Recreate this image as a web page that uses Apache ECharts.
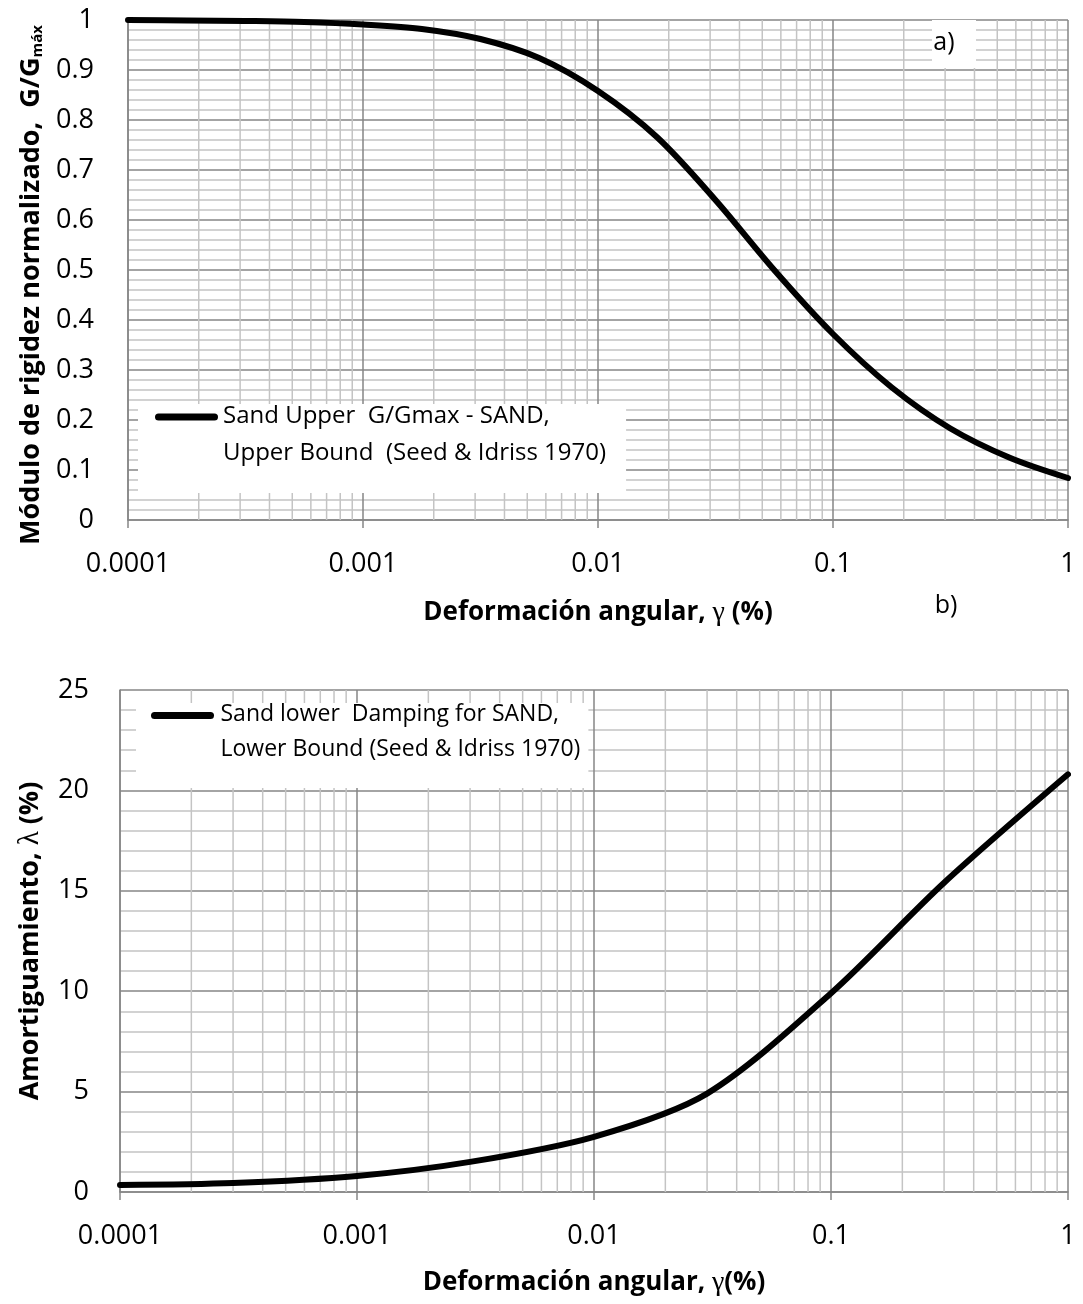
<!DOCTYPE html>
<html>
<head>
<meta charset="utf-8">
<script src="https://cdn.jsdelivr.net/npm/echarts@6/dist/echarts.min.js"></script>
<style>
  html, body { margin: 0; padding: 0; background: #ffffff; }
  #chart { width: 1083px; height: 1304px; }
</style>
</head>
<body>
<div id="chart"></div>
<script>
// Shear strain axis (log scale, %)
const xTicks = [0.0001, 0.001, 0.01, 0.1, 1];
const xTickLabels = ['0.0001', '0.001', '0.01', '0.1', '1'];
const minorSteps = [2, 3, 4, 5, 6, 7, 8, 9];

// a) Normalized shear modulus G/Gmax (read at quarter-decade strains)
const strainG = [0.0001, 0.000178, 0.000316, 0.000562, 0.001, 0.00178, 0.00316, 0.00562,
                 0.01, 0.0178, 0.0316, 0.0562, 0.1, 0.178, 0.316, 0.562, 1];
const gRatio  = [1.0, 0.999, 0.998, 0.996, 0.991, 0.982, 0.962, 0.924,
                 0.858, 0.766, 0.640, 0.500, 0.372, 0.265, 0.183, 0.125, 0.084];
const gTickLabels = ['0', '0.1', '0.2', '0.3', '0.4', '0.5', '0.6', '0.7', '0.8', '0.9', '1'];
const legendG = ['Sand Upper  G/Gmax - SAND,', 'Upper Bound  (Seed & Idriss 1970)'];

// b) Damping ratio
const strainD = [0.0001, 0.0003, 0.001, 0.003, 0.01, 0.03, 0.1, 0.3, 1];
const damping = [0.35, 0.45, 0.8, 1.5, 2.75, 4.9, 9.9, 15.4, 20.8];
const dTickLabels = ['0', '5', '10', '15', '20', '25'];
const legendD = ['Sand lower  Damping for SAND,', 'Lower Bound (Seed & Idriss 1970)'];

const FONT = '"Open Sans", "Liberation Sans", sans-serif';
const SERIF = '"Liberation Serif", "DejaVu Serif", serif';
const MAJOR = '#868686';
const MINOR = '#c4c4c4';

// strain values of the intermediate (2..9) vertical grid lines
const minorStrains = xTicks.slice(0, -1).flatMap(d => minorSteps.map(m => +(d * m).toPrecision(3)));

function xAxisFor(gridIndex, nameRich) {
  return {
    type: 'log', logBase: 10, gridIndex, min: xTicks[0], max: xTicks[xTicks.length - 1],
    axisLine: { show: true, lineStyle: { color: MAJOR, width: 1.5 } },
    axisTick: { show: true, inside: false, length: 8, lineStyle: { color: MAJOR, width: 1.5 } },
    axisLabel: {
      margin: 31, fontFamily: FONT, fontSize: 27, color: '#000',
      formatter: v => xTickLabels[Math.round(Math.log10(v)) + 4]
    },
    splitLine: { show: true, lineStyle: { color: MAJOR, width: 1.5 } },
    name: nameRich, nameLocation: 'middle', nameGap: gridIndex === 0 ? 79 : 77,
    nameTextStyle: {
      rich: {
        t: { fontFamily: FONT, fontSize: 26, fontWeight: 'bold', color: '#000' },
        g: { fontFamily: SERIF, fontSize: 28, color: '#000' }
      }
    }
  };
}

function yAxisFor(gridIndex, max, interval, labels, nameRich, nameGap, margin, namePad) {
  return {
    type: 'value', gridIndex, min: 0, max, interval,
    axisLine: { show: true, lineStyle: { color: MAJOR, width: 1.5 } },
    axisTick: { show: false },
    minorTick: { show: false, splitNumber: 5 },
    axisLabel: {
      margin, fontFamily: FONT, fontSize: 27, color: '#000',
      formatter: v => labels[Math.round(v / interval)]
    },
    splitLine: { show: true, lineStyle: { color: MAJOR, width: 1.5 } },
    minorSplitLine: { show: true, lineStyle: { color: MINOR, width: 1.5 } },
    name: nameRich, nameLocation: 'middle', nameGap, nameRotate: 90,
    nameTextStyle: {
      padding: namePad,
      rich: {
        t: { fontFamily: FONT, fontSize: 27, fontWeight: 'bold', color: '#000' },
        s: { fontFamily: FONT, fontSize: 15, fontWeight: 'bold', color: '#000', verticalAlign: 'bottom' },
        g: { fontFamily: SERIF, fontSize: 29, color: '#000' }
      }
    }
  };
}

// vertical grid lines at 2..9 × each decade, one segment per strain value
function minorGridSeries(i, yMax) {
  const data = [];
  minorStrains.forEach(v => { data.push([v, 0], [v, yMax], [v, '-']); });
  return {
    type: 'line', xAxisIndex: i, yAxisIndex: i, data, silent: true, z: 1,
    connectNulls: false, showSymbol: false, symbol: 'none',
    lineStyle: { color: MINOR, width: 1.5 }, emphasis: { disabled: true }
  };
}

function legendFor(lines, left, top, h1, padding, iconW, fontSize) {
  return {
    data: [lines.join(' ')], left, top, orient: 'vertical',
    backgroundColor: '#ffffff', padding, z: 4,
    icon: 'path://M3.5,0 H59.5 A3.5,3.5 0 0 1 59.5,7 H3.5 A3.5,3.5 0 0 1 3.5,0 Z',
    itemWidth: iconW, itemHeight: 7,
    selectedMode: false,
    formatter: () => `{a|${lines[0]}}\n{b|${lines[1]}}`,
    textStyle: {
      fontFamily: FONT, fontSize, color: '#000',
      rich: { a: { lineHeight: h1, fontSize }, b: { lineHeight: 2, fontSize } }
    }
  };
}

function curveSeries(name, i, xs, ys, smooth) {
  return {
    name, type: 'line', xAxisIndex: i, yAxisIndex: i, z: 3,
    data: xs.map((x, k) => [x, ys[k]]),
    smooth, showSymbol: false, symbol: 'none',
    lineStyle: { color: '#000', width: 6, cap: 'round', join: 'round' },
    itemStyle: { color: '#000' }
  };
}

const chart = echarts.init(document.getElementById('chart'), null, { renderer: 'canvas' });
chart.setOption({
  animation: false,
  backgroundColor: '#ffffff',
  grid: [
    { left: 128, top: 20, width: 940, height: 500 },
    { left: 120, top: 690, width: 948, height: 502 }
  ],
  xAxis: [
    xAxisFor(0, '{t|Deformación angular, }{g|γ}{t| (%)}'),
    xAxisFor(1, '{t|Deformación angular, }{g|γ}{t|(%)}')
  ],
  yAxis: [
    yAxisFor(0, 1, 0.1, gTickLabels, '{t|Módulo de rigidez normalizado,  G/G}{s|máx}', 82, 34, [0, 30, 0, 0]),
    yAxisFor(1, 25, 5, dTickLabels, '{t|Amortiguamiento, }{g|λ}{t| (%)}', 75, 31, 0)
  ],
  legend: [
    legendFor(legendG, 138, 404, 72, [0, 20, 28, 17], 63, 24),
    legendFor(legendD, 136, 703, 68, [0, 8, 27, 15], 66, 23)
  ],
  series: [
    minorGridSeries(0, 1),
    minorGridSeries(1, 25),
    curveSeries(legendG.join(' '), 0, strainG, gRatio, 0.33),
    curveSeries(legendD.join(' '), 1, strainD, damping, 0.3)
  ],
  graphic: [
    { type: 'rect', z: 10, shape: { x: 932, y: 20, width: 44, height: 48 }, style: { fill: '#ffffff' } },
    { type: 'text', z: 11, x: 944, y: 43,
      style: { text: 'a)', fontFamily: FONT, fontSize: 25, fill: '#000', align: 'center', verticalAlign: 'middle', textAlign: 'center', textVerticalAlign: 'middle' } },
    { type: 'text', z: 11, x: 946, y: 606,
      style: { text: 'b)', fontFamily: FONT, fontSize: 25, fill: '#000', align: 'center', verticalAlign: 'middle', textAlign: 'center', textVerticalAlign: 'middle' } }
  ]
});
</script>
</body>
</html>
